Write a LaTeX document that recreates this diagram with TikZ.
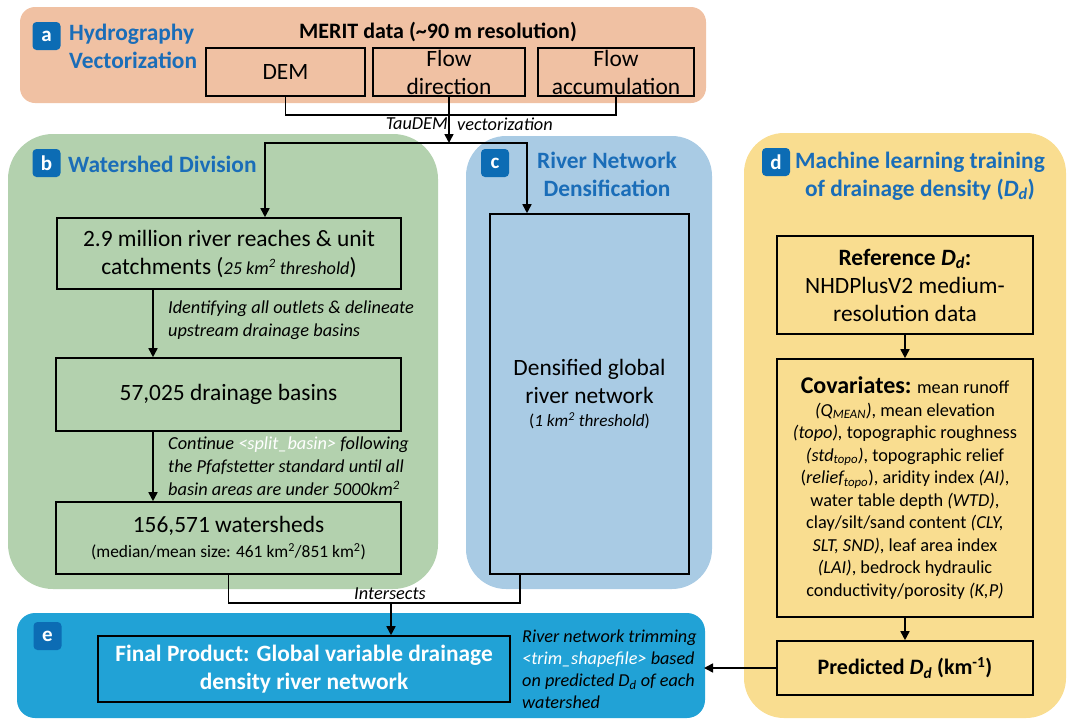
\documentclass[tikz,border=0pt]{standalone}
\usepackage{fontspec}
\setmainfont{Carlito}
\usetikzlibrary{arrows.meta}

\definecolor{peachp}{HTML}{F0C1A3}
\definecolor{greenp}{HTML}{B3D1AE}
\definecolor{bluep}{HTML}{A9CBE4}
\definecolor{yellowp}{HTML}{F9DD90}
\definecolor{brightp}{HTML}{21A2D6}
\definecolor{badgeblue}{HTML}{0C6CB4}
\definecolor{titleblue}{HTML}{1A6DB8}

\begin{document}
\begin{tikzpicture}[x=1pt,y=-1pt,
  box/.style={draw=black, line width=1.6pt, inner sep=0pt, align=center,
    font=\fontsize{23.4}{28}\selectfont},
  conn/.style={line width=1.6pt},
  arr/.style={conn, -{Triangle[length=9pt,width=9pt]}},
  badge/.style={fill=badgeblue, rounded corners=4pt, text=white,
    font=\bfseries\fontsize{21}{21}\selectfont, minimum size=28pt, inner sep=0pt},
  title/.style={text=titleblue, font=\bfseries\fontsize{23.4}{28}\selectfont,
    inner sep=0pt},
  note/.style={font=\itshape\fontsize{18.3}{23.5}\selectfont, inner sep=0pt,
    align=left},
]
\useasboundingbox (0,0) rectangle (1068,721);

% panels
\fill[peachp, rounded corners=15pt] (20,7) rectangle (706,103);
\fill[greenp, rounded corners=45pt] (8,134) rectangle (438,589);
\fill[bluep, rounded corners=40pt] (466,136) rectangle (712,589);
\fill[yellowp, rounded corners=40pt] (744,133) rectangle (1066,718);
\fill[brightp, rounded corners=18pt] (17,613) rectangle (705,718);

% panel badges and titles
\node[badge] (ba) at (46.5,36) {a};
\node[badge] (bb) at (46.5,163) {b};
\node[badge] (bc) at (495,163) {c};
\node[badge] (bd) at (776,162) {d};
\node[badge] (be) at (47.5,636) {e};

\node[title, anchor=west, align=left] (ta) at (69,46) {Hydrography\\Vectorization};
\node[title, anchor=west] (tb) at (68,164) {Watershed Division};
\node[title, align=center] (tc) at (607,174) {River Network\\Densification};
\node[title, align=center] (td) at (920,176)
  {Machine learning training\\of drainage density (\textit{D}\textsubscript{\textit{d}})};

% (a) MERIT inputs
\node[font=\bfseries\fontsize{22}{24}\selectfont, inner sep=0pt] (merit) at (438,32)
  {MERIT data (\textasciitilde 90 m resolution)};
\node[box, minimum width=159pt, minimum height=48pt] (dem) at (285.5,72) {DEM};
\node[box, minimum width=152pt, minimum height=48pt] (flowdir) at (449,72) {Flow\\direction};
\node[box, minimum width=156pt, minimum height=48pt] (acc) at (616,72) {Flow\\accumulation};

% (b) watershed division
\node[box, minimum width=344pt, minimum height=71pt] (b1) at (229,253.5)
  {2.9 million river reaches \& unit\\catchments ({\itshape\fontsize{18.2}{28}\selectfont 25 km\textsuperscript{2} threshold})};
\node[box, minimum width=345pt, minimum height=73pt] (b2) at (228.5,394.5)
  {57,025 drainage basins};
\node[box, minimum width=345pt, minimum height=72pt] (b3) at (228.5,538)
  {156,571 watersheds\\[-3pt]{\fontsize{17.4}{22}\selectfont (median/mean size: 461 km\textsuperscript{2}/851 km\textsuperscript{2})}};

\node[note, anchor=west] (n1) at (168,320)
  {Identifying all outlets \& delineate\\upstream drainage basins};
\node[note, anchor=west, font=\itshape\fontsize{18.3}{23}\selectfont] (n2) at (168,466)
  {Continue {\color{white}<split\_basin>} following\\the Pfafstetter standard until all\\basin areas are under 5000km\textsuperscript{2}};

% (c) densified network
\node[box, minimum width=199pt, minimum height=360pt] (c1) at (589.5,394)
  {Densified global\\river network\\[-5pt]{\fontsize{17.2}{22}\selectfont(\textit{1 km\textsuperscript{2} threshold})}};

% (d) drainage density model
\node[box, minimum width=256pt, minimum height=98pt] (d1) at (905,285)
  {{\bfseries Reference \textit{D}\textsubscript{\textit{d}}:}\\NHDPlusV2 medium-\\resolution data};
\node[box, minimum width=256pt, minimum height=258pt,
  font=\fontsize{18.3}{22.5}\selectfont] (d2) at (905,488)
  {{\bfseries\fontsize{24}{22.5}\selectfont Covariates:} mean runoff\\
   \textit{(Q\textsubscript{MEAN})}, mean elevation\\
   \textit{(topo),} topographic roughness\\
   \textit{(std\textsubscript{topo})}, topographic relief\\
   (\textit{relief\textsubscript{topo}}), aridity index \textit{(AI)},\\
   water table depth \textit{(WTD)},\\
   clay/silt/sand content \textit{(CLY,}\\
   \textit{SLT, SND)}, leaf area index\\
   \textit{(LAI)}, bedrock hydraulic\\
   conductivity/porosity \textit{(K,P)}};
\node[box, minimum width=256pt, minimum height=54pt,
  font=\bfseries\fontsize{22}{26}\selectfont] (d3) at (905,668)
  {Predicted \textit{D}\textsubscript{\textit{d}} (km\textsuperscript{-1})};

% (e) final product
\node[box, minimum width=412pt, minimum height=66pt, text=white,
  font=\bfseries\fontsize{23.4}{28}\selectfont] (final) at (304,669)
  {Final Product: Global variable drainage\\density river network};
\node[note, anchor=west, font=\itshape\fontsize{18.2}{22}\selectfont] (trim) at (522,669)
  {River network trimming\\{\color{white}<trim\_shapefile>} based\\on predicted D\textsubscript{d} of each\\watershed};

% connectors
\coordinate (hj) at (0,115);
\coordinate (hs) at (0,143);
\coordinate (bin) at (265,0);
\coordinate (cin) at (527,0);
\coordinate (bx) at (153,0);
\coordinate (iy) at (0,603);
\coordinate (cout) at (520,0);
\coordinate (ein) at (391,0);
\coordinate (etip) at (704,0);

\draw[conn] (dem.south) |- (acc.south |- hj) -- (acc.south);
\draw[arr] (flowdir.south) -- (flowdir.south |- hs);
\draw[arr] (flowdir.south |- hs) -| (b1.north -| bin);
\draw[arr] (flowdir.south |- hs) -| (c1.north -| cin);
\node[note, anchor=east] (tau1) at (448,124) {TauDEM};
\node[note, anchor=west] (tau2) at (457,124) {vectorization};

\draw[arr] (b1.south -| bx) -- (b2.north -| bx);
\draw[arr] (b2.south -| bx) -- (b3.north -| bx);

\draw[conn] (b3.south) |- (cout |- iy) -- (c1.south -| cout);
\draw[arr] (ein |- iy) -- (final.north -| ein);
\node[note] (inter) at (390,594) {Intersects};

\draw[arr] (d1.south) -- (d2.north);
\draw[arr] (d2.south) -- (d3.north);
\draw[arr] (d3.west) -- (d3.west -| etip);
\end{tikzpicture}
\end{document}
